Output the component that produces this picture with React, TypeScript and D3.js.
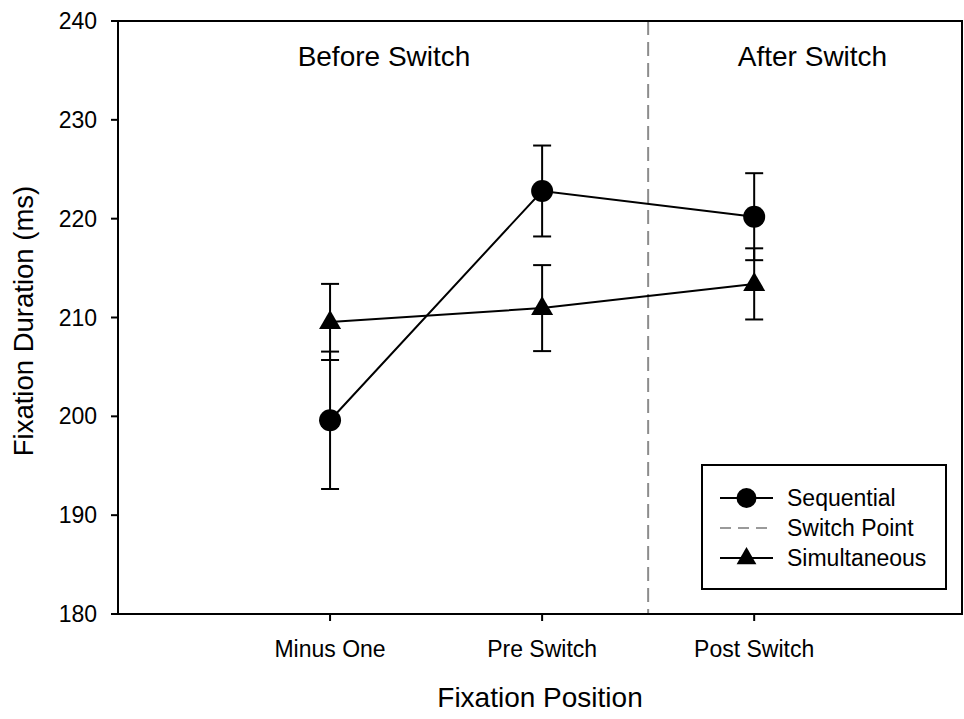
import React from "react";
import * as d3 from "d3";

const categories = ["Minus One", "Pre Switch", "Post Switch"];
const sequentialMean = [199.6, 222.8, 220.2];
const sequentialErr = [6.95, 4.6, 4.4];
const simultaneousMean = [209.55, 210.95, 213.4];
const simultaneousErr = [3.85, 4.35, 3.6];
const yTicks = [180, 190, 200, 210, 220, 230, 240];
const switchPoint = 2.5;

const W = 964;
const H = 719;
const FONT = "'Liberation Sans', Arial, sans-serif";

export default function App() {
  const x = d3.scaleLinear().domain([0, 3.98]).range([118, 962]);
  const y = d3.scaleLinear().domain([180, 240]).range([614, 21]);
  const pos = (i: number) => i + 1;

  const line = d3
    .line<number>()
    .x((_, i) => x(pos(i)))
    .y((d) => y(d));

  const triPath = (cx: number, cy: number, s = 1) =>
    `M${cx},${cy - 11 * s}L${cx + 11 * s},${cy + 8 * s}L${cx - 11 * s},${cy + 8 * s}Z`;

  const errBars = (means: number[], errs: number[], key: string) =>
    means.map((m, i) => {
      const cx = x(pos(i));
      const top = y(m + errs[i]);
      const bot = y(m - errs[i]);
      return (
        <g key={key + i} stroke="#000" strokeWidth={2}>
          <line x1={cx} x2={cx} y1={top} y2={bot} />
          <line x1={cx - 9} x2={cx + 9} y1={top} y2={top} />
          <line x1={cx - 9} x2={cx + 9} y1={bot} y2={bot} />
        </g>
      );
    });

  const legendX = 702;
  const legendY = 465;
  const rows = [498, 528, 558];

  return (
    <svg
      width={W}
      height={H}
      style={{ position: "absolute", left: 0, top: 0, background: "#fff" }}
      fontFamily={FONT}
    >
      <rect x={0} y={0} width={W} height={H} fill="#fff" />
      <line
        x1={x(switchPoint)}
        x2={x(switchPoint)}
        y1={y(240)}
        y2={y(180)}
        stroke="#8c8c8c"
        strokeWidth={2}
        strokeDasharray="14,7"
      />
      <rect
        x={x(0)}
        y={y(240)}
        width={x(3.98) - x(0)}
        height={y(180) - y(240)}
        fill="none"
        stroke="#000"
        strokeWidth={2}
      />
      {yTicks.map((t) => (
        <g key={"yt" + t}>
          <line x1={x(0) - 7} x2={x(0)} y1={y(t)} y2={y(t)} stroke="#000" strokeWidth={2} />
          <text x={97} y={y(t) + 8} textAnchor="end" fontSize={23} fill="#000">
            {t}
          </text>
        </g>
      ))}
      {categories.map((c, i) => (
        <g key={"xt" + c}>
          <line x1={x(pos(i))} x2={x(pos(i))} y1={y(180)} y2={y(180) + 7} stroke="#000" strokeWidth={2} />
          <text x={x(pos(i))} y={657} textAnchor="middle" fontSize={23} fill="#000">
            {c}
          </text>
        </g>
      ))}
      <text x={540} y={707} textAnchor="middle" fontSize={28} fill="#000">
        Fixation Position
      </text>
      <text
        transform={`translate(33,321) rotate(-90)`}
        textAnchor="middle"
        fontSize={27.5}
        fill="#000"
      >
        Fixation Duration (ms)
      </text>
      <text x={384} y={66} textAnchor="middle" fontSize={28} fill="#000">
        Before Switch
      </text>
      <text x={812.5} y={66} textAnchor="middle" fontSize={28} fill="#000">
        After Switch
      </text>
      <path d={line(sequentialMean) || ""} fill="none" stroke="#000" strokeWidth={2} />
      <path d={line(simultaneousMean) || ""} fill="none" stroke="#000" strokeWidth={2} />
      {errBars(sequentialMean, sequentialErr, "se")}
      {errBars(simultaneousMean, simultaneousErr, "si")}
      {sequentialMean.map((m, i) => (
        <circle key={"c" + i} cx={x(pos(i))} cy={y(m)} r={11} fill="#000" />
      ))}
      {simultaneousMean.map((m, i) => (
        <path key={"t" + i} d={triPath(x(pos(i)), y(m) - 1)} fill="#000" />
      ))}
      <rect
        x={legendX}
        y={legendY}
        width={244}
        height={124}
        fill="#fff"
        stroke="#000"
        strokeWidth={2}
      />
      <line x1={720} x2={773} y1={rows[0]} y2={rows[0]} stroke="#000" strokeWidth={2} />
      <circle cx={746.5} cy={rows[0]} r={10} fill="#000" />
      <line
        x1={720}
        x2={773}
        y1={rows[1]}
        y2={rows[1]}
        stroke="#9a9a9a"
        strokeWidth={2}
        strokeDasharray="11,7"
      />
      <line x1={720} x2={773} y1={rows[2]} y2={rows[2]} stroke="#000" strokeWidth={2} />
      <path d={triPath(746.5, rows[2] - 1, 0.9)} fill="#000" />
      {["Sequential", "Switch Point", "Simultaneous"].map((t, i) => (
        <text key={"lg" + t} x={787} y={rows[i] + 8} fontSize={23} fill="#000">
          {t}
        </text>
      ))}
    </svg>
  );
}
